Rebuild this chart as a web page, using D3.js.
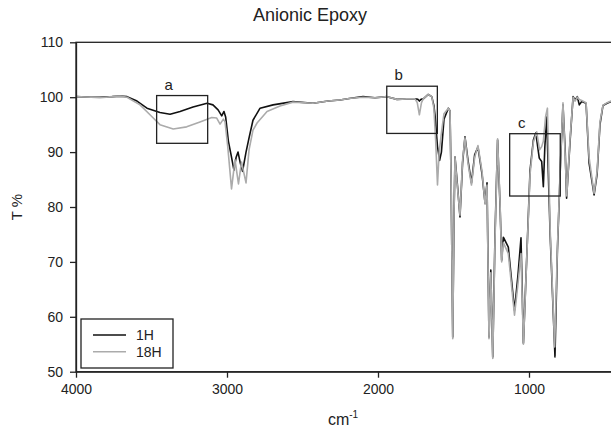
<!DOCTYPE html>
<html>
<head>
<meta charset="utf-8">
<script src="https://cdn.jsdelivr.net/npm/d3@7/dist/d3.min.js"></script>
<style>
  body { margin: 0; background: #fff; }
  svg { display: block; font-family: "Liberation Sans", Arial, sans-serif; }
</style>
</head>
<body>
<div id="chart"></div>
<script>
var
  width = 611,
  height = 430;

// FTIR spectra: [wavenumber, transmittance %]
var spectrum1H = [
  [4000,100.1],[3900,100.0],[3841,100.0],[3760,100.1],[3709,100.2],[3662,100.1],
  [3596,99.3],[3530,98.0],[3444,97.2],[3377,96.9],[3311,97.4],[3225,98.2],
  [3132,98.9],[3093,98.6],[3059,97.7],[3035,96.6],[3020,97.4],[3009,96.4],
  [2991,92.0],[2973,89.5],[2954,86.7],[2940,89.0],[2927,90.0],[2912,88.0],
  [2897,86.5],[2874,90.0],[2854,92.6],[2828,95.8],[2781,98.0],[2695,98.6],
  [2563,99.2],[2430,98.9],[2330,99.3],[2252,99.5],[2180,99.8],[2099,100.1],
  [2020,99.9],[1940,100.1],[1874,99.6],[1808,99.7],[1755,99.7],[1735,99.6],
  [1726,99.3],[1715,99.6],[1700,99.7],[1667,100.5],[1644,100.1],[1630,98.5],
  [1622,96.6],[1606,91.0],[1592,88.5],[1580,90.0],[1563,96.0],[1534,98.0],
  [1523,97.5],[1516,85.0],[1505,56.3],[1496,79.5],[1490,89.1],[1477,85.0],
  [1457,78.2],[1440,88.0],[1424,92.8],[1404,88.5],[1381,84.4],[1360,89.5],
  [1338,90.9],[1311,86.0],[1291,80.7],[1278,84.4],[1265,56.3],[1253,68.5],
  [1240,52.7],[1225,75.0],[1208,92.2],[1192,80.5],[1181,70.3],[1170,74.5],
  [1137,72.7],[1096,61.2],[1073,67.6],[1053,74.4],[1037,55.2],[1013,72.2],
  [993,86.7],[971,92.2],[955,93.5],[932,88.9],[916,88.3],[905,83.7],
  [895,91.0],[883,96.4],[860,75.0],[828,52.7],[812,72.0],[790,89.0],
  [775,98.6],[760,90.0],[751,81.6],[728,92.0],[708,100.1],[695,99.5],
  [680,100.1],[667,98.6],[651,99.2],[622,98.9],[602,88.0],[569,82.2],
  [549,86.0],[530,95.0],[510,98.5],[483,98.9],[457,99.2]
];

var spectrum18H = [
  [4000,100.1],[3900,100.0],[3841,99.9],[3760,100.1],[3709,100.2],[3662,100.0],
  [3576,98.6],[3510,96.8],[3444,95.0],[3356,94.2],[3267,94.6],[3179,95.5],
  [3101,96.3],[3068,96.2],[3046,95.1],[3024,96.0],[3013,95.5],[2995,91.0],
  [2970,83.3],[2947,88.6],[2924,84.2],[2904,88.2],[2874,84.4],[2854,90.4],
  [2828,94.0],[2801,95.3],[2735,97.4],[2649,98.4],[2563,99.1],[2430,98.9],
  [2330,99.3],[2252,99.5],[2180,99.8],[2099,100.0],[2020,99.9],[1940,100.1],
  [1874,99.6],[1808,99.7],[1755,99.7],[1740,99.0],[1726,96.8],[1712,99.0],
  [1700,99.7],[1667,100.5],[1644,100.1],[1630,98.0],[1618,92.0],[1606,84.0],
  [1595,90.0],[1580,93.5],[1563,97.0],[1534,98.0],[1523,97.5],[1516,85.0],
  [1505,56.0],[1496,80.0],[1490,89.0],[1477,84.5],[1457,78.5],[1440,88.5],
  [1424,92.6],[1404,88.0],[1381,84.0],[1360,89.0],[1338,91.2],[1311,86.5],
  [1291,80.5],[1278,84.0],[1265,56.0],[1253,68.0],[1240,52.4],[1225,74.0],
  [1208,92.4],[1192,81.0],[1181,70.0],[1170,73.5],[1137,71.5],[1096,60.3],
  [1073,66.0],[1053,71.5],[1037,55.0],[1013,72.0],[993,86.0],[971,91.8],
  [949,93.7],[930,90.4],[916,91.0],[905,92.0],[890,96.5],[878,98.0],
  [860,76.0],[830,54.5],[812,72.5],[790,89.5],[775,99.0],[760,89.0],
  [750,82.0],[728,92.5],[708,100.0],[695,99.3],[680,100.0],[667,99.6],
  [651,99.4],[622,99.0],[602,89.0],[569,82.5],[549,86.5],[530,95.5],
  [510,98.5],[483,99.0],[457,99.3]
];

var xTicks = [4000, 3000, 2000, 1000];
var yTicks = [50, 60, 70, 80, 90, 100, 110];

// highlighted regions: label, wavenumber from/to, T% top/bottom
var boxLabels = ["a", "b", "c"];
var boxWave = [[3466, 3128], [1942, 1607], [1128, 793]];
var boxT = [[100.3, 91.6], [102.0, 93.4], [93.35, 82.0]];

var seriesNames = ["1H", "18H"];
var seriesColors = ["#111111", "#ababab"];

var svg = d3.select("#chart")
  .append("svg")
  .attr("width", width)
  .attr("height", height)
  .style("background", "#fff");

var x = d3.scaleLinear()
  .domain([4000, 400])
  .range([76, 619.6]);

var y = d3.scaleLinear()
  .domain([50, 110])
  .range([371.7, 42.3]);

// frame
svg.append("rect")
  .attr("x", x(4000))
  .attr("y", y(110))
  .attr("width", x(400) - x(4000))
  .attr("height", y(50) - y(110))
  .attr("fill", "none")
  .attr("stroke", "#222")
  .attr("stroke-width", 1.3);

var line = d3.line()
  .x(function(d) { return x(d[0]); })
  .y(function(d) { return y(d[1]); });

[spectrum1H, spectrum18H].forEach(function(s, i) {
  svg.append("path")
    .datum(s)
    .attr("d", line)
    .attr("fill", "none")
    .attr("stroke", seriesColors[i])
    .attr("stroke-width", 1.6)
    .attr("stroke-linejoin", "round");
});

// axes
var xAxis = svg.append("g")
  .attr("transform", "translate(0," + y(50) + ")")
  .call(d3.axisBottom(x).tickValues(xTicks).tickFormat(d3.format("d"))
    .tickSize(6).tickSizeOuter(0).tickPadding(6));

var yAxis = svg.append("g")
  .attr("transform", "translate(" + x(4000) + ",0)")
  .call(d3.axisLeft(y).tickValues(yTicks).tickFormat(d3.format("d"))
    .tickSize(6).tickSizeOuter(0).tickPadding(7));

[xAxis, yAxis].forEach(function(g) {
  g.select(".domain").attr("stroke", "#222").attr("stroke-width", 1.3);
  g.selectAll(".tick line").attr("stroke", "#222").attr("stroke-width", 1.3);
  g.selectAll(".tick text")
    .attr("fill", "#222")
    .style("font-size", "14px")
    .style("font-family", "Liberation Sans, Arial, sans-serif");
});

// boxes
boxLabels.forEach(function(lab, i) {
  svg.append("rect")
    .attr("x", x(boxWave[i][0]))
    .attr("y", y(boxT[i][0]))
    .attr("width", x(boxWave[i][1]) - x(boxWave[i][0]))
    .attr("height", y(boxT[i][1]) - y(boxT[i][0]))
    .attr("fill", "none")
    .attr("stroke", "#222")
    .attr("stroke-width", 1.3);

  svg.append("text")
    .attr("x", x(boxWave[i][0]) + 12)
    .attr("y", y(boxT[i][0]) - 6)
    .attr("text-anchor", "middle")
    .attr("fill", "#222")
    .style("font-size", "15px")
    .text(lab);
});

// legend
var legend = svg.append("g");
legend.append("rect")
  .attr("x", 81)
  .attr("y", 319)
  .attr("width", 92)
  .attr("height", 49)
  .attr("fill", "#fff")
  .attr("stroke", "#222")
  .attr("stroke-width", 1.3);

seriesNames.forEach(function(name, i) {
  legend.append("line")
    .attr("x1", 93).attr("x2", 126)
    .attr("y1", 335 + i * 16.7).attr("y2", 335 + i * 16.7)
    .attr("stroke", seriesColors[i])
    .attr("stroke-width", 1.6);
  legend.append("text")
    .attr("x", 136)
    .attr("y", 340 + i * 16.7)
    .attr("fill", "#222")
    .style("font-size", "14px")
    .text(name);
});

// titles
svg.append("text")
  .attr("x", 310)
  .attr("y", 21)
  .attr("text-anchor", "middle")
  .attr("fill", "#222")
  .style("font-size", "18px")
  .text("Anionic Epoxy");

svg.append("text")
  .attr("transform", "translate(22,207) rotate(-90)")
  .attr("text-anchor", "middle")
  .attr("fill", "#222")
  .style("font-size", "15px")
  .text("T %");

var xlab = svg.append("text")
  .attr("x", 343)
  .attr("y", 425)
  .attr("text-anchor", "middle")
  .attr("fill", "#222")
  .style("font-size", "16px");
xlab.append("tspan").text("cm");
xlab.append("tspan")
  .attr("dy", -7)
  .style("font-size", "10px")
  .text("-1");
</script>
</body>
</html>
